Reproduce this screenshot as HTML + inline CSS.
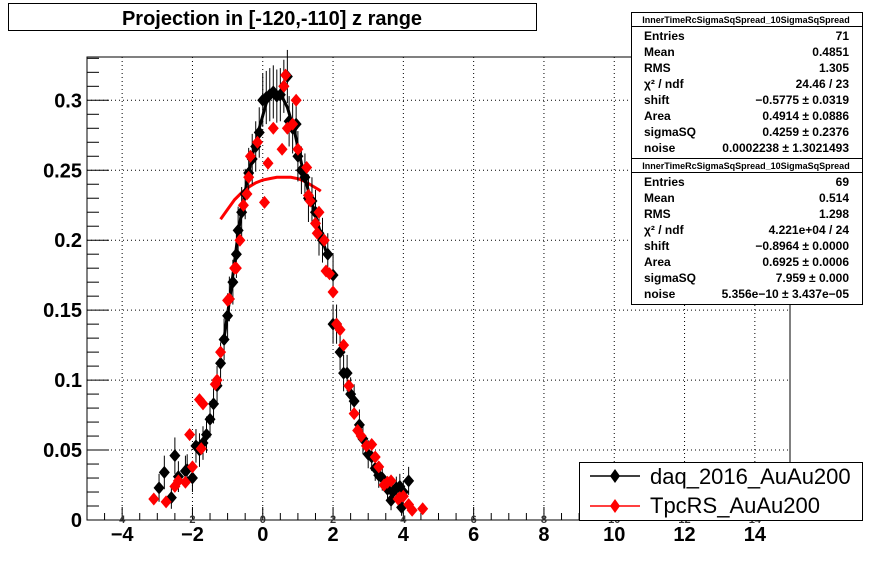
<!DOCTYPE html>
<html><head><meta charset="utf-8"><style>
body{margin:0;background:#fff;font-family:"Liberation Sans",sans-serif}
svg text{font-family:"Liberation Sans",sans-serif}
</style></head><body>
<svg id="c" width="878" height="578" xmlns="http://www.w3.org/2000/svg">
<rect x="0" y="0" width="878" height="578" fill="#fff"/>
<g>
<rect x="8.5" y="3.5" width="528" height="27" fill="#fff" stroke="#000"/>
<text x="272" y="25" font-size="20" font-weight="bold" text-anchor="middle">Projection in [-120,-110] z range</text>
</g>
<g id="grid"></g>
<g id="axes"></g>
<g id="marks"></g>
<g id="stats"></g>
<g>
<rect x="579.5" y="462.5" width="283" height="58" fill="#fff" stroke="#000"/>
<g>
<line x1="590" y1="476" x2="640" y2="476" stroke="#000" stroke-width="1.5"/>
<path d="M615 469 L620 476 L615 483 L610 476Z" fill="#000"/>
<text x="650" y="484" font-size="22">daq_2016_AuAu200</text></g>
<g>
<line x1="590" y1="506" x2="640" y2="506" stroke="#f00" stroke-width="1.5"/>
<path d="M615 499 L620 506 L615 513 L610 506Z" fill="#f00"/>
<text x="650" y="513" font-size="22">TpcRS_AuAu200</text></g>
</g>
</svg>
<script>
const blackX=[-2.95,-2.8,-2.6,-2.5,-2.4,-2.2,-2.15,-2.0,-1.9,-1.8,-1.7,-1.6,-1.5,-1.4,-1.3,-1.2,-1.1,-1.0,-0.95,-0.85,-0.75,-0.7,-0.6,-0.5,-0.4,-0.3,-0.2,-0.1,0.0,0.1,0.2,0.3,0.4,0.5,0.6,0.7,0.75,0.85,0.95,1.0,1.1,1.2,1.3,1.4,1.5,1.6,1.7,1.85,2.0,2.0,2.1,2.2,2.3,2.4,2.5,2.6,2.75,2.85,3.0,3.1,3.2,3.3,3.4,3.55,3.65,3.7,3.8,3.9,3.95,4.0,4.15];
const blackY=[0.023,0.034,0.016,0.046,0.031,0.035,0.036,0.030,0.053,0.050,0.055,0.061,0.072,0.083,0.096,0.112,0.129,0.146,0.158,0.170,0.190,0.207,0.220,0.233,0.248,0.258,0.267,0.277,0.300,0.302,0.304,0.306,0.303,0.304,0.310,0.317,0.285,0.280,0.283,0.260,0.250,0.245,0.230,0.228,0.220,0.205,0.200,0.190,0.175,0.140,0.140,0.120,0.105,0.105,0.090,0.085,0.068,0.058,0.047,0.045,0.037,0.032,0.030,0.022,0.014,0.020,0.023,0.024,0.009,0.020,0.028];
const blackErr=[0.010,0.012,0.008,0.013,0.011,0.011,0.011,0.010,0.012,0.012,0.012,0.013,0.013,0.014,0.014,0.015,0.015,0.016,0.016,0.016,0.017,0.017,0.018,0.018,0.018,0.018,0.018,0.018,0.019,0.019,0.019,0.019,0.019,0.019,0.019,0.019,0.018,0.018,0.018,0.018,0.017,0.017,0.017,0.017,0.016,0.016,0.016,0.015,0.015,0.014,0.014,0.013,0.013,0.013,0.012,0.012,0.011,0.011,0.010,0.010,0.009,0.009,0.009,0.008,0.007,0.008,0.008,0.009,0.006,0.008,0.010];
const redX=[-3.1,-2.75,-2.5,-2.4,-2.2,-2.0,-2.08,-1.75,-1.8,-1.7,-1.35,-1.3,-1.2,-1.0,-0.95,-0.8,-0.75,-0.65,-0.55,-0.45,-0.4,-0.35,-0.15,0.05,0.15,0.3,0.55,0.6,0.65,0.7,0.85,0.95,1.0,1.25,1.3,1.35,1.5,1.55,1.6,1.75,1.8,1.9,2.0,2.1,2.2,2.3,2.45,2.6,2.7,2.8,2.95,3.1,3.2,3.3,3.45,3.55,3.65,3.85,3.9,4.0,4.15,4.25,4.55];
const redY=[0.015,0.013,0.024,0.028,0.027,0.038,0.061,0.051,0.086,0.083,0.097,0.100,0.120,0.157,0.158,0.180,0.180,0.200,0.225,0.233,0.245,0.260,0.270,0.227,0.255,0.280,0.265,0.310,0.318,0.280,0.283,0.300,0.265,0.252,0.232,0.228,0.212,0.205,0.220,0.200,0.178,0.176,0.163,0.140,0.136,0.125,0.096,0.076,0.064,0.060,0.053,0.054,0.045,0.038,0.025,0.027,0.028,0.015,0.016,0.017,0.011,0.007,0.008];
const fitBX=[-1.1,-0.9,-0.7,-0.5,-0.3,-0.1,0.1,0.3,0.5,0.7,0.9,1.1,1.3,1.5,1.7,1.8];
const fitBY=[0.130,0.165,0.205,0.235,0.260,0.280,0.298,0.305,0.305,0.295,0.278,0.255,0.235,0.218,0.200,0.192];
const fitRX=[-1.2,-1.0,-0.8,-0.6,-0.4,-0.2,0.0,0.2,0.4,0.6,0.8,1.0,1.2,1.4,1.6,1.65];
const fitRY=[0.215,0.222,0.229,0.234,0.238,0.241,0.243,0.244,0.245,0.245,0.245,0.244,0.242,0.239,0.236,0.235];
const xTicks=[-4,-2,0,2,4,6,8,10,12,14];
const yTicks=[0,0.05,0.1,0.15,0.2,0.25,0.3];
const yTickLabels=["0","0.05","0.1","0.15","0.2","0.25","0.3"];

const L=87,R=790,T=57,B=520,X0=-5,X1=15,Y0=0,YPX=1399;
const sx=v=>L+(v-X0)*(R-L)/(X1-X0);
const sy=v=>B-(v-Y0)*YPX;
const NS="http://www.w3.org/2000/svg";
function mk(tag,attrs,parent,txt){const e=document.createElementNS(NS,tag);for(const k in attrs)e.setAttribute(k,attrs[k]);if(txt!==undefined)e.textContent=txt;parent.appendChild(e);return e;}
const grid=document.getElementById('grid'),axes=document.getElementById('axes'),marks=document.getElementById('marks'),stats=document.getElementById('stats');
xTicks.forEach(v=>{const l=mk('line',{x1:sx(v),x2:sx(v),y1:T,y2:B,stroke:'#000','stroke-dasharray':'1,3'},grid);

});
yTicks.forEach(v=>{if(v===0)return;const l=mk('line',{x1:L,x2:R,y1:sy(v),y2:sy(v),stroke:'#000','stroke-dasharray':'1,3'},grid);

});
const fr=mk('rect',{x:L,y:T,width:R-L,height:B-T,fill:'none',stroke:'#000'},axes);


for(let v=-5;v<=15.001;v+=0.5){const maj=Math.abs(v-Math.round(v/2)*2)<1e-6;mk('line',{x1:sx(v),x2:sx(v),y1:B,y2:B-(maj?13:7),stroke:'#000'},axes);}
for(let i=0;i<=33;i++){const v=i*0.01;const maj=i%5===0;mk('line',{x1:L,x2:L+(maj?22:12),y1:sy(v),y2:sy(v),stroke:'#000'},axes);}
xTicks.forEach(v=>{const t=mk('text',{x:sx(v),y:541,'font-size':20,'font-weight':'bold','text-anchor':'middle'},axes,v<0?'\u2212'+(-v):String(v));


const s=mk('text',{x:sx(v),y:523,'font-size':11,'font-weight':'bold','text-anchor':'middle',fill:'#333'},axes,String(Math.abs(v)));

});
yTicks.forEach((v,i)=>{const t=mk('text',{x:82,y:sy(v)+7,'font-size':20,'font-weight':'bold','text-anchor':'end'},axes,yTickLabels[i]);

});
function poly(xs,ys,col,name){const p=mk('polyline',{points:xs.map((x,i)=>sx(x)+','+sy(ys[i])).join(' '),fill:'none',stroke:col,'stroke-width':3},marks);

}
poly(fitRX,fitRY,'#f00','fit-curve-tpcrs');
blackX.forEach((x,i)=>{const e=blackErr[i];mk('line',{x1:sx(x),x2:sx(x),y1:sy(blackY[i]-e),y2:sy(blackY[i]+e),stroke:'#000'},marks);});
poly(fitBX,fitBY,'#000','fit-curve-daq');
function dia(x,y,col,name){const cx=sx(x),cy=sy(y);const d=mk('path',{d:`M${cx} ${cy-6.5}L${cx+5.5} ${cy}L${cx} ${cy+6.5}L${cx-5.5} ${cy}Z`,fill:col},marks);

}
blackX.forEach((x,i)=>dia(x,blackY[i],'#000','point-daq'));
redX.forEach((x,i)=>dia(x,redY[i],'#f00','point-tpcrs'));
function box(y0,rows,name){const h=14+rows.length*16+4;const g=mk('g',{},stats);


mk('rect',{x:631.5,y:y0+0.5,width:231,height:h,fill:'#fff',stroke:'#000'},g);
mk('line',{x1:631,x2:862,y1:y0+14.5,y2:y0+14.5,stroke:'#000'},g);
mk('text',{x:746,y:y0+11,'font-size':9,'font-weight':'bold','text-anchor':'middle'},g,'InnerTimeRcSigmaSqSpread_10SigmaSqSpread');
rows.forEach((r,i)=>{const y=y0+28+i*16;mk('text',{x:644,y:y,'font-size':12,'font-weight':'bold'},g,r[0]);mk('text',{x:849,y:y,'font-size':12,'font-weight':'bold','text-anchor':'end'},g,r[1]);});}
box(12,[['Entries','71'],['Mean','0.4851'],['RMS','1.305'],['\u03c7\u00b2 / ndf','24.46 / 23'],['shift','\u22120.5775 \u00b1 0.0319'],['Area','0.4914 \u00b1 0.0886'],['sigmaSQ','0.4259 \u00b1 0.2376'],['noise','0.0002238 \u00b1 1.3021493']],'stats-box-daq');
box(158,[['Entries','69'],['Mean','0.514'],['RMS','1.298'],['\u03c7\u00b2 / ndf','4.221e+04 / 24'],['shift','\u22120.8964 \u00b1 0.0000'],['Area','0.6925 \u00b1 0.0006'],['sigmaSQ','7.959 \u00b1 0.000'],['noise','5.356e\u221210 \u00b1 3.437e\u221205']],'stats-box-tpcrs');
</script>
</body></html>
